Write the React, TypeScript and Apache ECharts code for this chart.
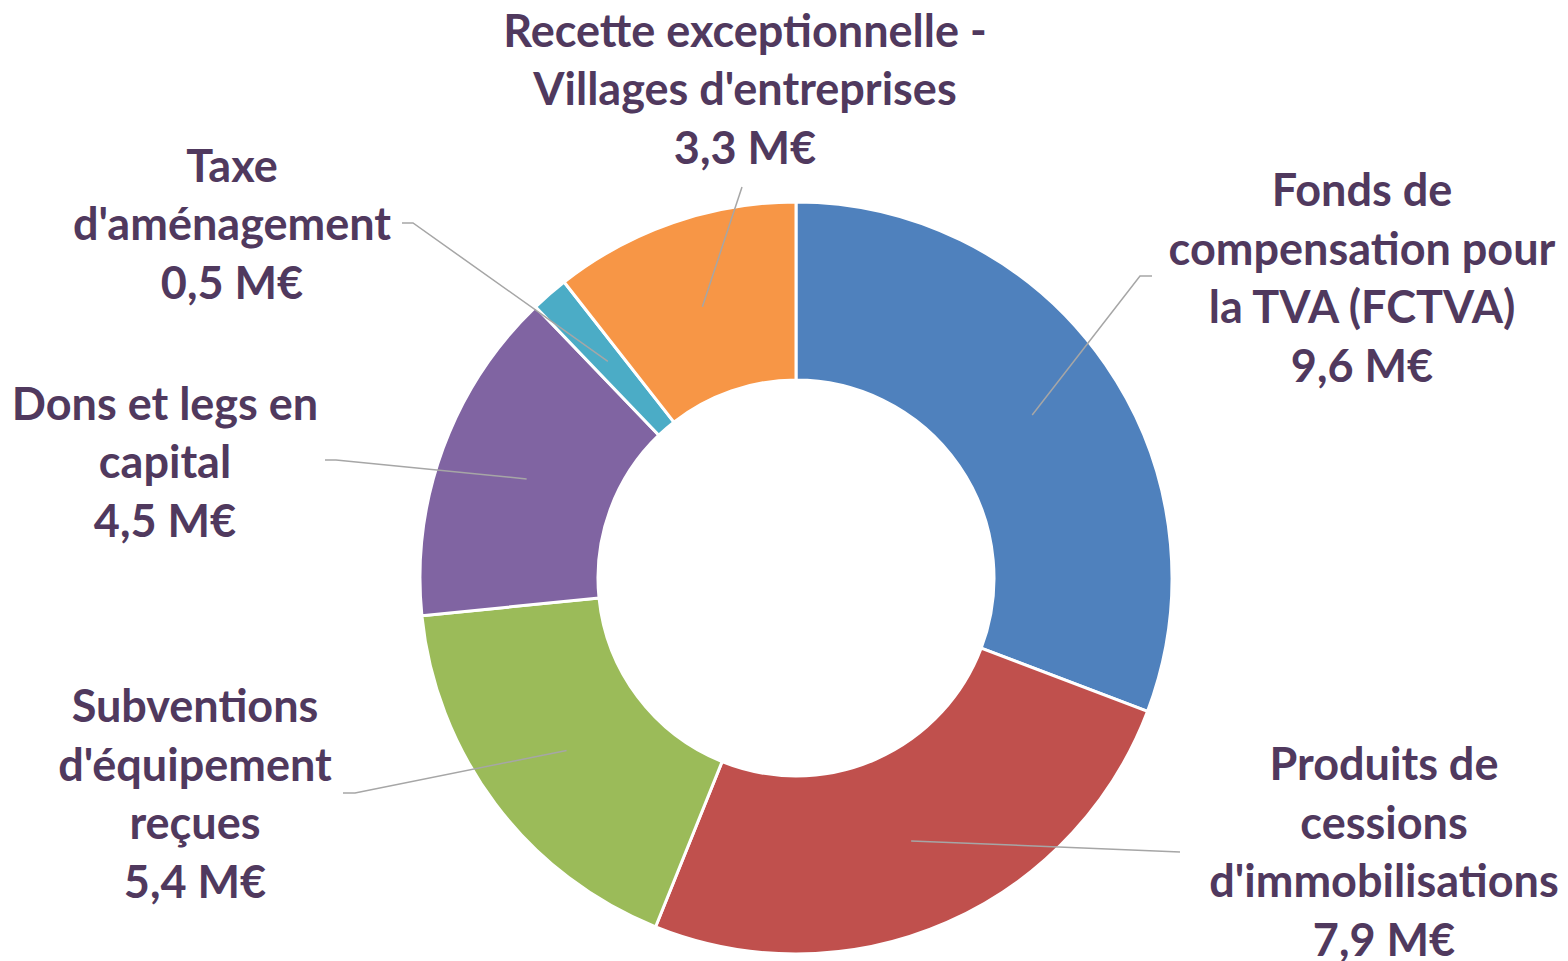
import React, { useEffect, useRef } from "react";
import * as echarts from "echarts";

const categories = [
  "Fonds de\ncompensation pour\nla TVA (FCTVA)",
  "Produits de\ncessions\nd'immobilisations",
  "Subventions\nd'équipement\nreçues",
  "Dons et legs en\ncapital",
  "Taxe\nd'aménagement",
  "Recette exceptionnelle -\nVillages d'entreprises",
];
const values = [9.6, 7.9, 5.4, 4.5, 0.5, 3.3];
const colors = ["#4F81BD", "#C0504D", "#9BBB59", "#8064A2", "#4BACC6", "#F79646"];

// layout: label block centres and leader-line end points
const labelCenters = [
  [1362, 277],
  [1384, 851],
  [195, 793],
  [165, 461],
  [232, 223],
  [745, 88],
];
const labelLineEnds = [
  [[1140, 276], [1152, 276]],
  [[1168, 851.5], [1180, 852]],
  [[355, 793], [343, 793]],
  [[336, 460], [325, 460]],
  [[413, 223], [402, 223]],
  [[742, 187]],
];

const CX = 796;
const CY = 578;
const R_IN = 198;
const R_OUT = 376;

export default function App() {
  const ref = useRef<HTMLDivElement>(null);
  useEffect(() => {
    if (!ref.current) return;
    const chart = echarts.init(ref.current, undefined, { renderer: "svg" });
    const total = values.reduce((a, b) => a + b, 0);
    const midAngles: number[] = [];
    let acc = 0;
    values.forEach((v) => {
      midAngles.push(((acc + v / 2) / total) * 360);
      acc += v;
    });
    const fmt = (v: number) => v.toFixed(1).replace(".", ",") + " M€";
    const base = {
      type: "pie",
      center: [CX, CY],
      radius: [R_IN, R_OUT],
      startAngle: 90,
      clockwise: true,
      avoidLabelOverlap: false,
    };
    chart.setOption({
      animation: false,
      backgroundColor: "#ffffff",
      series: [
        {
          ...base,
          z: 1,
          itemStyle: { borderColor: "#ffffff", borderWidth: 3 },
          label: { show: false },
          labelLine: { show: false },
          emphasis: { disabled: true },
          data: categories.map((name, i) => ({
            name,
            value: values[i],
            itemStyle: { color: colors[i] },
          })),
        },
        {
          ...base,
          z: 10,
          silent: true,
          itemStyle: { color: "rgba(0,0,0,0)", borderWidth: 0 },
          label: {
            show: true,
            position: "outside",
            color: "#50395E",
            fontFamily: "Lato, 'Noto Sans', sans-serif",
            fontWeight: "bold",
            fontSize: 45,
            lineHeight: 58.5,
            align: "center",
            formatter: (p: any) => p.name + "\n" + fmt(p.value),
          },
          labelLine: {
            show: true,
            lineStyle: { color: "#A6A6A6", width: 1.5 },
          },
          labelLayout: (params: any) => {
            const i = params.dataIndex;
            const a = (midAngles[i] * Math.PI) / 180;
            const r = (R_IN + R_OUT) / 2;
            const start = [CX + r * Math.sin(a), CY - r * Math.cos(a)];
            return {
              x: labelCenters[i][0],
              y: labelCenters[i][1],
              align: "center",
              verticalAlign: "middle",
              labelLinePoints: [start, ...labelLineEnds[i]],
            };
          },
          data: categories.map((name, i) => ({
            name,
            value: values[i],
          })),
        },
      ],
    });
    return () => chart.dispose();
  }, []);
  return (
    <div
      ref={ref}
      style={{ position: "absolute", left: 0, top: 0, width: 1568, height: 961 }}
    />
  );
}
